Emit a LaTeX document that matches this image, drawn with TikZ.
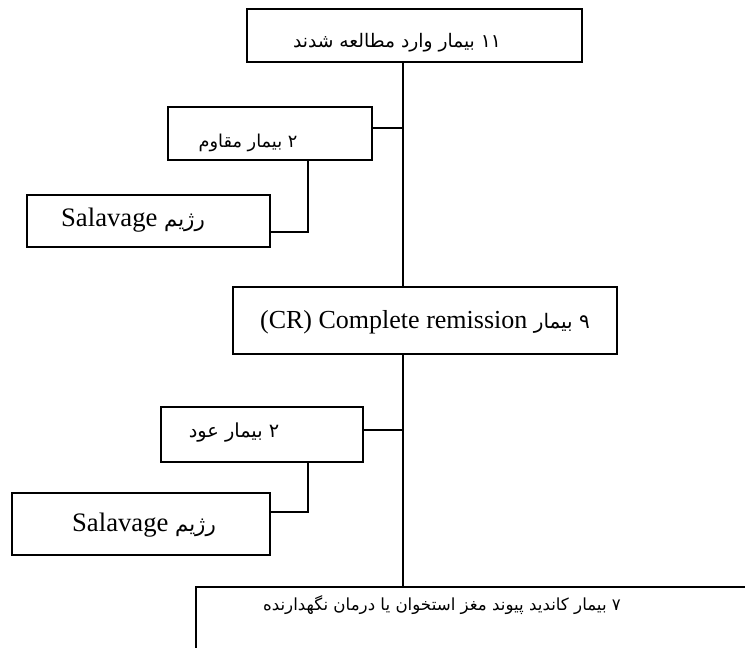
\documentclass[tikz,border=0pt]{standalone}
\usepackage{fontspec}
\setmainfont{Liberation Serif}
\newfontfamily\arabicfont[Script=Arabic]{DejaVu Sans}
\TeXXeTstate=1
\usetikzlibrary{calc}
\newcommand{\fasize}[1]{\arabicfont\fontsize{#1}{#1}\selectfont}
\tikzset{
  boxn/.style={draw, line width=1.2pt, rectangle, inner sep=0pt},
  fa/.style={inner sep=0pt},
  mix/.style={inner sep=0pt, font=\fontsize{20}{24}\selectfont},
  conn/.style={line width=1.2pt}
}
\begin{document}
\begin{tikzpicture}[x=0.75pt,y=-0.75pt]
\useasboundingbox (0,0) rectangle (745,647);
\clip (0,0) rectangle (745,647);
% boxes
\node[boxn, minimum width=335*0.75pt, minimum height=53*0.75pt] (top) at (414.5,35.5) {};
\node[boxn, minimum width=204*0.75pt, minimum height=53*0.75pt] (res) at (270,133.5) {};
\node[boxn, minimum width=243*0.75pt, minimum height=52*0.75pt] (sal1) at (148.5,221) {};
\node[boxn, minimum width=384*0.75pt, minimum height=67*0.75pt] (cr) at (425,320.5) {};
\node[boxn, minimum width=202*0.75pt, minimum height=55*0.75pt] (rel) at (262,434.5) {};
\node[boxn, minimum width=258*0.75pt, minimum height=62*0.75pt] (sal2) at (141,524) {};
\node[boxn, minimum width=700*0.75pt, minimum height=120*0.75pt] (bot) at (546,647) {};
% texts
\node[fa] (ttop) at (397,43) {\fasize{14}\beginR ۱۱ بیمار وارد مطالعه شدند\endR};
\node[fa] (tres) at (248,143) {\fasize{13.3}\beginR ۲ بیمار مقاوم\endR};
\node[mix] (tsal1) at (133,220) {Salavage {\fasize{16}\beginR رژیم\endR}};
\node[mix, font=\fontsize{19.5}{24}\selectfont] (tcr) at (425,322) {(CR) Complete remission {\fasize{15}\beginR ۹ بیمار\endR}};
\node[fa] (trel) at (234,433) {\fasize{14.5}\beginR ۲ بیمار عود\endR};
\node[mix] (tsal2) at (144,525) {Salavage {\fasize{16}\beginR رژیم\endR}};
\node[fa] (tbot) at (442,605) {\fasize{12.5}\beginR ۷ بیمار کاندید پیوند مغز استخوان یا درمان نگهدارنده\endR};
% reference points
\coordinate (tx) at (403,0);
\coordinate (bx) at (308,0);
\coordinate (resE) at ($(res.north east)!0.4!(res.south east)$);
\coordinate (relE) at ($(rel.north east)!0.42!(rel.south east)$);
\coordinate (sal1E) at ($(sal1.north east)!0.71!(sal1.south east)$);
\coordinate (sal2E) at ($(sal2.north east)!0.31!(sal2.south east)$);
% trunk
\draw[conn] (top.south -| tx) -- (cr.north -| tx);
\draw[conn] (cr.south -| tx) -- (bot.north -| tx);
% branches
\draw[conn] (resE) -- (resE -| tx);
\draw[conn] (res.south -| bx) |- (sal1E);
\draw[conn] (relE) -- (relE -| tx);
\draw[conn] (rel.south -| bx) |- (sal2E);
\end{tikzpicture}
\end{document}
